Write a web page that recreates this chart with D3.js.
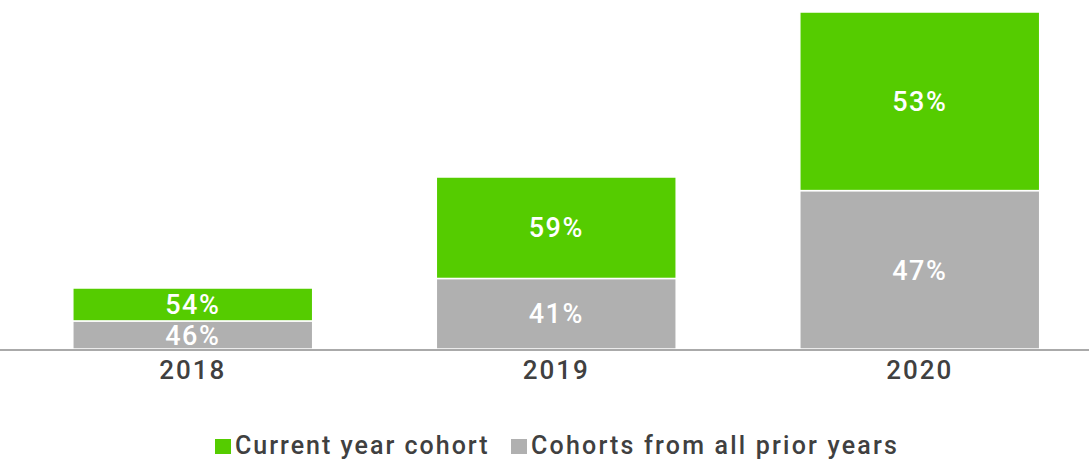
<!DOCTYPE html>
<html>
<head>
<meta charset="utf-8">
<script src="https://cdn.jsdelivr.net/npm/d3@7"></script>
<style>
html,body{margin:0;padding:0;background:#fff;}
svg{display:block;}
</style>
</head>
<body>
<svg id="chart" width="1089" height="459"></svg>
<script>
const years = ["2018", "2019", "2020"];
const totals = [61, 172, 337];
const currentPct = [54, 59, 53];
const priorPct = [46, 41, 47];
const seriesNames = ["Current year cohort", "Cohorts from all prior years"];
const colors = ["#55cc00", "#b0b0b0"];

const W = 1089, H = 459;
const svg = d3.select("#chart");
const font = "Roboto, 'DejaVu Sans', sans-serif";

const x = d3.scaleBand().domain(years).range([11, 1101.5]).paddingInner(0.34).paddingOuter(0.17);
const y = d3.scaleLinear().domain([0, 337]).range([349, 12]);

const rows = years.map((yr, i) => ({
  year: yr,
  prior: totals[i] * priorPct[i] / 100,
  current: totals[i] * currentPct[i] / 100,
  priorPct: priorPct[i],
  currentPct: currentPct[i]
}));

const stack = d3.stack().keys(["prior", "current"]);
const stacked = stack(rows);
const colorMap = {prior: colors[1], current: colors[0]};

const g = svg.append("g");
stacked.forEach(layer => {
  g.selectAll(null).data(layer).enter().append("rect")
    .attr("x", d => x(d.data.year))
    .attr("width", x.bandwidth())
    .attr("y", d => y(d[1]))
    .attr("height", d => y(d[0]) - y(d[1]))
    .attr("fill", colorMap[layer.key])
    .attr("stroke", "#fff")
    .attr("stroke-width", 1.5);
  g.selectAll(null).data(layer).enter().append("text")
    .attr("x", d => x(d.data.year) + x.bandwidth() / 2)
    .attr("y", d => (y(d[0]) + y(d[1])) / 2)
    .attr("dy", "0.36em")
    .attr("text-anchor", "middle")
    .attr("fill", "#fff")
    .attr("font-family", font)
    .attr("font-weight", 500)
    .attr("font-size", 27)
    .attr("letter-spacing", 1.5)
    .text(d => d.data[layer.key + "Pct"] + "%");
});

// axis
const axis = d3.axisBottom(x).tickSize(0).tickPadding(12);
const ax = svg.append("g").attr("transform", "translate(0,350)").call(axis);
ax.select(".domain").remove();
ax.append("line").attr("x1", 0).attr("x2", W).attr("y1", 0).attr("y2", 0)
  .attr("stroke", "#aaaaaa").attr("stroke-width", 2);
ax.selectAll(".tick text")
  .attr("y", 29)
  .attr("dy", 0)
  .attr("font-family", font)
  .attr("font-size", 26)
  .attr("font-weight", 500)
  .attr("letter-spacing", 2)
  .attr("fill", "#404040");

// legend
const leg = svg.append("g").attr("transform", "translate(0,454)");
const legendX = [215, 511];
const legendSpacing = [2, 2.2];
seriesNames.forEach((name, i) => {
  leg.append("rect").attr("x", legendX[i]).attr("y", -15).attr("width", 16).attr("height", 15).attr("fill", colors[i]);
  leg.append("text").attr("x", legendX[i] + 20).attr("y", 0)
    .attr("font-family", font).attr("font-size", 25).attr("font-weight", 500)
    .attr("letter-spacing", legendSpacing[i])
    .attr("fill", "#404040").text(name);
});
</script>
</body>
</html>
